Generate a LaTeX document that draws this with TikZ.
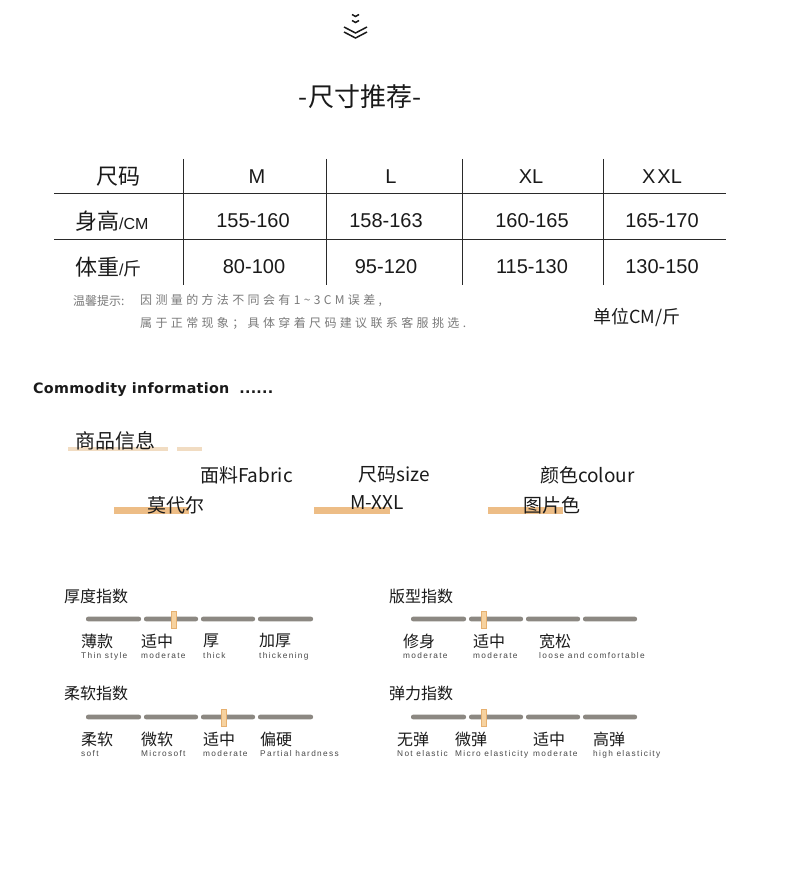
\documentclass[tikz,border=0pt]{standalone}
\usepackage{fontspec}
\setmainfont{Noto Sans CJK SC}
\newfontfamily\arial{Liberation Sans}
\newfontfamily\arialsp{Liberation Sans}[LetterSpace=16]
\newfontfamily\cjksp{Noto Sans CJK SC}[LetterSpace=28]
\newfontfamily\boldf{DejaVu Sans}[LetterSpace=2]
\definecolor{ink}{HTML}{1A1A1A}
\definecolor{rule}{HTML}{2A2A2A}
\definecolor{notegray}{HTML}{7A7A7A}
\definecolor{barbeige}{HTML}{F1DCC2}
\definecolor{barorange}{HTML}{EDBD86}
\definecolor{bargray}{HTML}{8C8882}
\definecolor{markfill}{HTML}{F6D2A0}
\definecolor{markedge}{HTML}{E6B070}
\tikzset{
  icon/.style={draw=ink, line width=1.5pt},
  tline/.style={draw=rule, line width=1pt},
  cell/.style={inner sep=0pt, text=ink, font=\arial\fontsize{20}{20}\selectfont},
  cjkcell/.style={inner sep=0pt, text=ink, font=\fontsize{22}{22}\selectfont},
  note/.style={inner sep=0pt, text=notegray, anchor=west, font=\fontsize{12}{12}\selectfont},
  notesp/.style={inner sep=0pt, text=notegray, anchor=west, font=\cjksp\fontsize{12}{12}\selectfont},
  info/.style={inner sep=0pt, text=ink, anchor=west, font=\fontsize{19}{19}\selectfont},
  hbar/.style={fill=barorange},
  lbar/.style={fill=barbeige},
  sectitle/.style={inner sep=0pt, text=ink, anchor=west, font=\fontsize{16}{16}\selectfont},
  lvl/.style={fill=bargray, rounded corners=2pt},
  marker/.style={fill=markfill, draw=markedge, line width=0.5pt},
  cnlab/.style={inner sep=0pt, text=ink, anchor=west, font=\fontsize{16}{16}\selectfont},
  enlab/.style={inner sep=0pt, text=ink!80, anchor=west, font=\arialsp\fontsize{8.3}{8.3}\selectfont},
}
\begin{document}
\begin{tikzpicture}[x=1pt,y=-1pt]
\useasboundingbox (0,0) rectangle (790,874);
\fill[white] (0,0) rectangle (790,874);
% top icon
\draw[icon] (352,14.5) -- (355.5,16.5) -- (359,14.5);
\draw[icon] (352,20.5) -- (355.5,22.5) -- (359,20.5);
\draw[icon] (344,27) -- (355.5,33) -- (367,27);
\draw[icon] (344,32) -- (355.5,38) -- (367,32);
% title
\node[inner sep=0pt, text=ink, font=\fontsize{26}{26}\selectfont] (title) at (360,97) {-尺寸推荐-};
% table
\draw[tline] (54,194) -- (726,194);
\draw[tline] (54,240) -- (726,240);
\foreach \x in {183,326,462,603} \draw[tline] (\x,159) -- (\x,285);
\node[cjkcell] (h0) at (118,177) {尺码};
\node[cell] (h1) at (257,177) {M};
\node[cell] (h2) at (391,177) {L};
\node[cell] (h3) at (531,177) {XL};
\node[cell] (h4) at (662,177) {X\hspace{2pt}XL};
\node[cjkcell, anchor=west] (r1) at (75,221) {身高\arial\fontsize{16}{16}\selectfont/CM};
\node[cell] (r1a) at (253,221) {155-160};
\node[cell] (r1b) at (386,221) {158-163};
\node[cell] (r1c) at (532,221) {160-165};
\node[cell] (r1d) at (662,221) {165-170};
\node[cjkcell, anchor=west] (r2) at (75,267) {体重{\arial\fontsize{16}{16}\selectfont/}{\fontsize{18}{18}\selectfont 斤}};
\node[cell] (r2a) at (254,267) {80-100};
\node[cell] (r2b) at (386,267) {95-120};
\node[cell] (r2c) at (532,267) {115-130};
\node[cell] (r2d) at (662,267) {130-150};
% notes
\node[note] (tip0) at (73,301) {温馨提示:};
\node[notesp] (tip1) at (140,301) {因测量的方法不同会有1\textasciitilde3CM误差,};
\node[notesp] (tip2) at (140,323) {属于正常现象；具体穿着尺码建议联系客服挑选.};
\node[inner sep=0pt, text=ink, anchor=west, font=\fontsize{18}{18}\selectfont] (unit) at (593,317) {单位CM/斤};
% commodity
\node[inner sep=0pt, text=ink, anchor=west, font=\boldf\bfseries\fontsize{14.3}{14.3}\selectfont] (comm) at (33,390) {Commodity information\hspace{10pt}......};
\fill[lbar] (68,447) rectangle (168,451);
\fill[lbar] (177,447) rectangle (202,451);
\node[info, font=\fontsize{20}{20}\selectfont] (sp) at (75,441) {商品信息};
\node[info] (fab) at (200,475) {面料Fabric};
\node[info] (siz) at (358,475) {尺码size};
\node[info] (col) at (540,475) {颜色colour};
\fill[hbar] (114,507) rectangle (189,514);
\fill[hbar] (314,507) rectangle (390,514);
\fill[hbar] (488,507) rectangle (563,514);
\node[info] (fabv) at (147,505) {莫代尔};
\node[info] (sizv) at (350,503) {M-XXL};
\node[info] (colv) at (523,505) {图片色};
% index 1
\node[sectitle] (t1) at (64,596) {厚度指数};
\fill[lvl] (86,616.7) rectangle (141,621.3);
\fill[lvl] (144,616.7) rectangle (198,621.3);
\fill[lvl] (201,616.7) rectangle (255,621.3);
\fill[lvl] (258,616.7) rectangle (313,621.3);
\draw[marker] (171,611) rectangle (176,628);
\node[cnlab] (a1) at (81,641) {薄款};
\node[cnlab] (a2) at (141,641) {适中};
\node[cnlab] (a3) at (203,641) {厚};
\node[cnlab] (a4) at (259,641) {加厚};
\node[enlab] (e1) at (81,656) {Thin style};
\node[enlab] (e2) at (141,656) {moderate};
\node[enlab] (e3) at (203,656) {thick};
\node[enlab] (e4) at (259,656) {thickening};
% index 2
\node[sectitle] (t2) at (389,596) {版型指数};
\fill[lvl] (411,616.7) rectangle (466,621.3);
\fill[lvl] (469,616.7) rectangle (523,621.3);
\fill[lvl] (526,616.7) rectangle (580,621.3);
\fill[lvl] (583,616.7) rectangle (637,621.3);
\draw[marker] (481,611) rectangle (486,628);
\node[cnlab] (b1) at (403,641) {修身};
\node[cnlab] (b2) at (473,641) {适中};
\node[cnlab] (b3) at (539,641) {宽松};
\node[enlab] (f1) at (403,656) {moderate};
\node[enlab] (f2) at (473,656) {moderate};
\node[enlab] (f3) at (539,656) {loose and comfortable};
% index 3
\node[sectitle] (t3) at (64,693) {柔软指数};
\fill[lvl] (86,714.7) rectangle (141,719.3);
\fill[lvl] (144,714.7) rectangle (198,719.3);
\fill[lvl] (201,714.7) rectangle (255,719.3);
\fill[lvl] (258,714.7) rectangle (313,719.3);
\draw[marker] (221,709) rectangle (226,726);
\node[cnlab] (c1) at (81,739) {柔软};
\node[cnlab] (c2) at (141,739) {微软};
\node[cnlab] (c3) at (203,739) {适中};
\node[cnlab] (c4) at (260,739) {偏硬};
\node[enlab] (g1) at (81,754) {soft};
\node[enlab] (g2) at (141,754) {Microsoft};
\node[enlab] (g3) at (203,754) {moderate};
\node[enlab] (g4) at (260,754) {Partial hardness};
% index 4
\node[sectitle] (t4) at (389,693) {弹力指数};
\fill[lvl] (411,714.7) rectangle (466,719.3);
\fill[lvl] (469,714.7) rectangle (523,719.3);
\fill[lvl] (526,714.7) rectangle (580,719.3);
\fill[lvl] (583,714.7) rectangle (637,719.3);
\draw[marker] (481,709) rectangle (486,726);
\node[cnlab] (d1) at (397,739) {无弹};
\node[cnlab] (d2) at (455,739) {微弹};
\node[cnlab] (d3) at (533,739) {适中};
\node[cnlab] (d4) at (593,739) {高弹};
\node[enlab] (k1) at (397,754) {Not elastic};
\node[enlab] (k2) at (455,754) {Micro elasticity};
\node[enlab] (k3) at (533,754) {moderate};
\node[enlab] (k4) at (593,754) {high elasticity};
\end{tikzpicture}
\end{document}
